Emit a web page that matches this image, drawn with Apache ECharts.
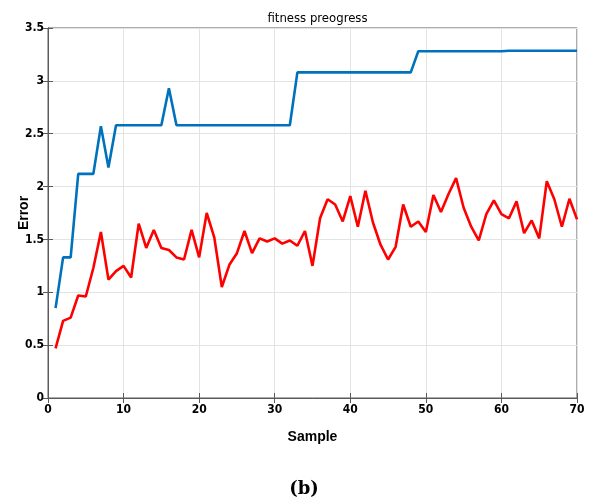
<!DOCTYPE html>
<html>
<head>
<meta charset="utf-8">
<script src="https://cdn.jsdelivr.net/npm/echarts@6/dist/echarts.min.js"></script>
<style>
  html, body { margin: 0; padding: 0; background: #fff; }
  #chart { width: 590px; height: 504px; }
</style>
</head>
<body>
<div id="chart"></div>
<script>
// Sample index 1..70
const samples = Array.from({ length: 70 }, (_, i) => i + 1);

// Best fitness per sample (blue, stepwise)
const bestFitness = [
  0.85, 1.33, 1.33, 2.12, 2.12, 2.12, 2.57, 2.18, 2.58, 2.58,
  2.58, 2.58, 2.58, 2.58, 2.58, 2.93, 2.58, 2.58, 2.58, 2.58,
  2.58, 2.58, 2.58, 2.58, 2.58, 2.58, 2.58, 2.58, 2.58, 2.58,
  2.58, 2.58, 3.08, 3.08, 3.08, 3.08, 3.08, 3.08, 3.08, 3.08,
  3.08, 3.08, 3.08, 3.08, 3.08, 3.08, 3.08, 3.08, 3.28, 3.28,
  3.28, 3.28, 3.28, 3.28, 3.28, 3.28, 3.28, 3.28, 3.28, 3.28,
  3.285, 3.285, 3.285, 3.285, 3.285, 3.285, 3.285, 3.285, 3.285, 3.285
];

// Mean fitness per sample (red)
const meanFitness = [
  0.47, 0.73, 0.76, 0.97, 0.96, 1.23, 1.57, 1.12, 1.20, 1.25,
  1.14, 1.65, 1.42, 1.59, 1.42, 1.40, 1.33, 1.31, 1.59, 1.33,
  1.75, 1.52, 1.05, 1.26, 1.37, 1.58, 1.37, 1.51, 1.48, 1.51,
  1.46, 1.49, 1.44, 1.58, 1.25, 1.70, 1.88, 1.83, 1.67, 1.91,
  1.62, 1.96, 1.66, 1.45, 1.31, 1.43, 1.83, 1.62, 1.67, 1.57,
  1.92, 1.76, 1.93, 2.08, 1.80, 1.62, 1.49, 1.74, 1.87, 1.74,
  1.70, 1.86, 1.56, 1.68, 1.51, 2.05, 1.88, 1.62, 1.885, 1.69
];

const xTicks = [0, 10, 20, 30, 40, 50, 60, 70];
const yTicks = [0, 0.5, 1, 1.5, 2, 2.5, 3, 3.5];

const narrow = "'DejaVu Sans Condensed', 'Liberation Sans', sans-serif";
const labelFont = { fontFamily: narrow, fontWeight: 'bold', fontSize: 12, color: '#000' };
const boxColor = '#5a5a5a';

const chart = echarts.init(document.getElementById('chart'), null, { renderer: 'canvas' });

const pairs = (ys) => samples.map((x, i) => [x, ys[i]]);

chart.setOption({
  animation: false,
  backgroundColor: '#fff',
  title: [
    {
      text: 'fitness preogress',
      left: 312.5, top: 7, textAlign: 'center',
      textStyle: { fontFamily: narrow, fontWeight: 'normal', fontSize: 13, color: '#000' }
    },
    {
      text: '(b)',
      left: 299, top: 475, textAlign: 'center',
      textStyle: { fontFamily: 'DejaVu Serif', fontWeight: 'bold', fontSize: 18, color: '#000' }
    }
  ],
  grid: {
    left: 48, right: 13, top: 28, bottom: 106,
    outerBoundsMode: 'none', containLabel: false,
    show: true, borderColor: boxColor, borderWidth: 1
  },
  xAxis: [
    {
      type: 'value', min: 0, max: 70, interval: 10,
      name: 'Sample', nameLocation: 'middle', nameGap: 32, nameMoveOverlap: false,
      nameTextStyle: { fontFamily: 'Liberation Sans', fontWeight: 'bold', fontSize: 14, color: '#000' },
      axisLine: { show: true, lineStyle: { color: boxColor } },
      axisTick: { show: true, inside: true, length: 5, lineStyle: { color: boxColor } },
      axisLabel: Object.assign({ margin: 6 }, labelFont),
      splitLine: { show: true, lineStyle: { color: '#e3e3e3' } }
    },
    {
      type: 'value', min: 0, max: 70, interval: 10, position: 'top',
      axisLine: { show: true, lineStyle: { color: boxColor } },
      axisTick: { show: true, inside: true, length: 5, lineStyle: { color: boxColor } },
      axisLabel: { show: false }, splitLine: { show: false }
    }
  ],
  yAxis: [
    {
      type: 'value', min: 0, max: 3.5, interval: 0.5,
      name: 'Error', nameLocation: 'middle', nameGap: 17, nameRotate: 90, nameMoveOverlap: false,
      nameTextStyle: { fontFamily: 'Liberation Sans', fontWeight: 'bold', fontSize: 14, color: '#000' },
      axisLine: { show: true, lineStyle: { color: boxColor } },
      axisTick: { show: true, inside: true, length: 5, lineStyle: { color: boxColor } },
      axisLabel: Object.assign({ margin: 4, formatter: (v) => String(v) }, labelFont),
      splitLine: { show: true, lineStyle: { color: '#e3e3e3' } }
    },
    {
      type: 'value', min: 0, max: 3.5, interval: 0.5, position: 'right',
      axisLine: { show: true, lineStyle: { color: boxColor } },
      axisTick: { show: true, inside: true, length: 5, lineStyle: { color: boxColor } },
      axisLabel: { show: false }, splitLine: { show: false }
    }
  ],
  series: [
    {
      name: 'best', type: 'line', data: pairs(bestFitness),
      showSymbol: false, lineStyle: { color: '#0072BD', width: 2.6 }, z: 3
    },
    {
      name: 'mean', type: 'line', data: pairs(meanFitness),
      showSymbol: false, lineStyle: { color: '#FF0000', width: 2.6 }, z: 3
    }
  ]
});
</script>
</body>
</html>
